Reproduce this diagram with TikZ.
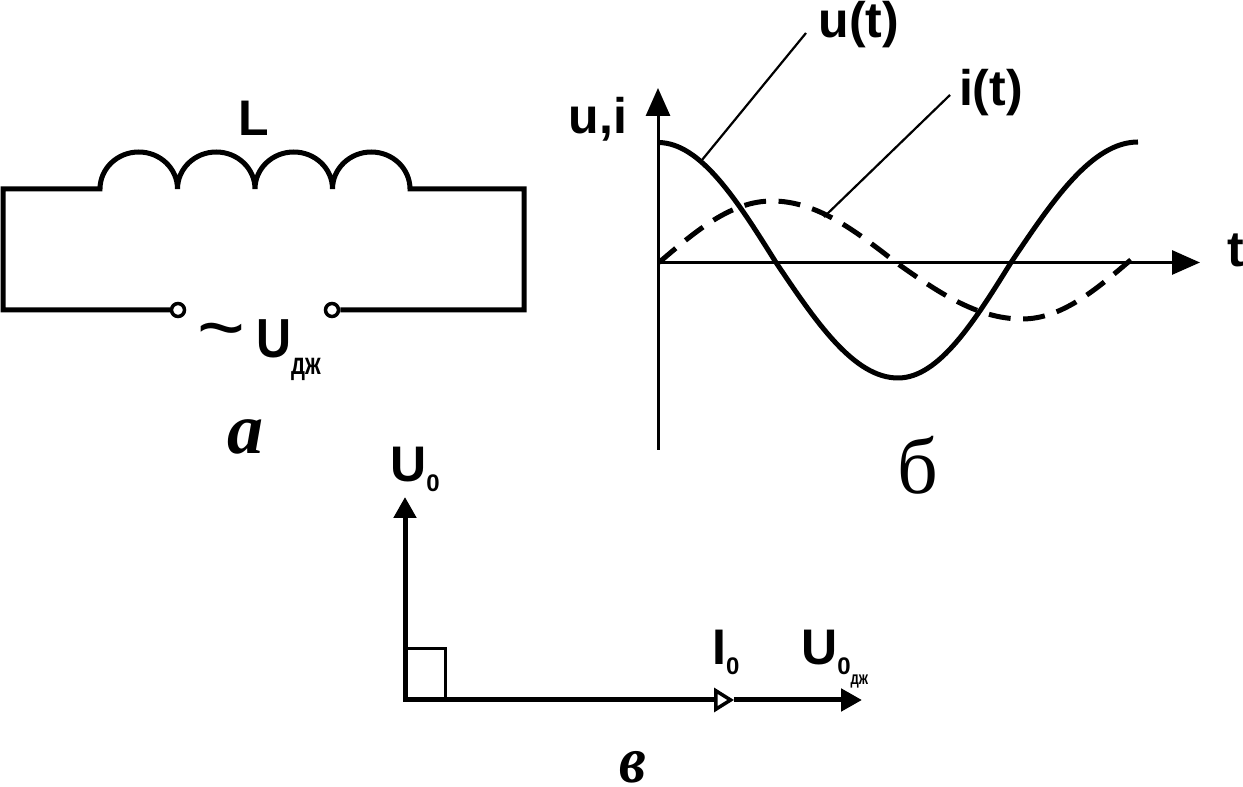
\documentclass[tikz,border=0pt]{standalone}
\usepackage{fontspec}
\setmainfont{Liberation Sans}
\newfontfamily\serifcap{Liberation Serif}
\usetikzlibrary{arrows.meta}
\newcommand{\subdj}[2]{\raisebox{#2}{\scalebox{1}[1.4]{\fontsize{#1}{#1}\selectfont дж}}}
\newcommand{\subnull}{\raisebox{-10pt}{\fontsize{24}{24}\selectfont 0}}
\tikzset{
  wire/.style={line width=5pt,line join=miter},
  thinline/.style={line width=2.2pt},
  axisline/.style={line width=3pt,-{Triangle[length=28pt,width=24pt]}},
  vector/.style={line width=5pt,-{Triangle[length=21pt,width=22pt]}},
  clamp/.style={circle,draw,line width=3.5pt,minimum size=13pt,inner sep=0pt},
  lab/.style={inner sep=0pt,font=\fontsize{50}{50}\selectfont\bfseries},
  tag/.style={inner sep=0pt,font=\fontsize{72}{72}\selectfont\serifcap\bfseries\itshape},
}
\begin{document}
\begin{tikzpicture}[x=1pt,y=1pt]
\useasboundingbox (0,0) rectangle (1243,787);
\coordinate (bl) at (3,477);
\coordinate (tl) at (3,598);
\coordinate (cs) at (100,598);
\coordinate (tr) at (524,598);
\coordinate (br) at (524,477);
\node[clamp] (kl) at (178,477) {};
\node[clamp] (kr) at (332,477) {};
\draw[wire] (kl) -- (bl) -- (tl) -- (cs)
  arc[start angle=180,end angle=0,x radius=38.75,y radius=37]
  arc[start angle=180,end angle=0,x radius=38.75,y radius=37]
  arc[start angle=180,end angle=0,x radius=38.75,y radius=37]
  arc[start angle=180,end angle=0,x radius=38.75,y radius=37]
  -- (tr) -- (br) -- (kr);
\node[lab] (lL) at (254,669) {L};
\node[inner sep=0pt,font=\fontsize{82}{82}\selectfont] (tld) at (221,448) {\textasciitilde};
\node[lab,anchor=base west] (lUdj) at (256,429) {\scalebox{0.97}[1.1]{U}\subdj{22}{-17pt}};
\node[tag] (capa) at (245,350) {а};
% graph
\coordinate (gb) at (658,337);
\coordinate (gt) at (658,699);
\coordinate (g0) at (658,524.5);
\coordinate (gr) at (1200,524.5);
\draw[axisline] (gb) -- (gt);
\draw[axisline] (g0) -- (gr);
\draw[line width=5pt] (658,644.5) .. controls (700.7,644.5) and (737.5,585.9) .. (776,524.5)
  .. controls (815.8,465.4) and (853.8,409) .. (898,409)
  .. controls (938.9,409) and (974.2,465.4) .. (1011,524.5)
  .. controls (1052.4,586.2) and (1092,645) .. (1138,645);
\draw[line width=5pt,dash pattern=on 22pt off 12.5pt] (659,524.5) .. controls (695.8,556) and (731,586) .. (772,586)
  .. controls (816.9,586) and (855.6,556) .. (896,524.5)
  .. controls (937,495.6) and (976.4,468) .. (1022,468)
  .. controls (1062.2,468) and (1096.8,498) .. (1133,529);
\node[lab] (lui) at (598,668) {u,i};
\node[lab] (lu) at (859,762) {u(t)};
\node[lab] (li) at (991,694) {i(t)};
\node[lab] (lt) at (1236,537) {t};
\coordinate (pu) at (702,627);
\coordinate (pi) at (824,570);
\coordinate (eu) at (806,754);
\coordinate (ei) at (950,692);
\draw[thinline] (pu) -- (eu);
\draw[thinline] (pi) -- (ei);
\node[inner sep=0pt,font=\fontsize{80}{80}\selectfont\serifcap] (capb) at (918,322) {б};
% vectors
\coordinate (v0) at (405,87);
\coordinate (vu) at (405,290);
\coordinate (vi) at (734,87);
\coordinate (vd) at (862,87);
\coordinate (sq) at (445,138);
\draw[line width=3pt] (v0) rectangle (sq);
\draw[vector,line cap=rect] (v0) -- (vu);
\draw[line width=5pt,line cap=rect,-{Triangle[open,length=20pt,width=24pt,line width=3.5pt]}] (v0) -- (vi);
\draw[vector] (vi) -- (vd);
\node[lab,anchor=base west] (lU0) at (390,305) {U\subnull};
\node[lab,anchor=base west] (lI0) at (712,122) {I\subnull};
\node[lab,anchor=base west] (lU0d) at (801,122) {U\subnull\subdj{13}{-20pt}};
\node[font=\fontsize{60}{60}\selectfont\serifcap\bfseries\itshape,inner sep=0pt] (capv) at (633,20) {\scalebox{1}[1.1]{в}};
\end{tikzpicture}
\end{document}
